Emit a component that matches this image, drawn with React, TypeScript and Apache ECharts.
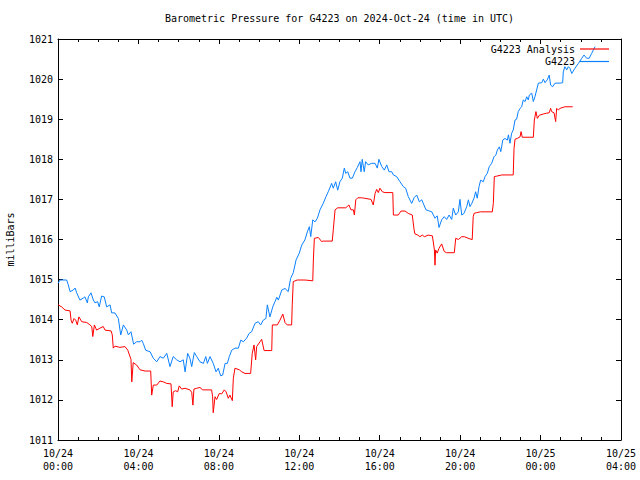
import React, { useEffect, useRef } from "react";
import * as echarts from "echarts";

// Hours since 2024-10-24 00:00 UTC
const stationTimes = [0.01,0.10,0.43,0.51,0.60,0.76,0.85,0.93,1.09,1.26,1.34,1.46,1.51,1.64,1.76,1.84,1.97,2.05,2.17,2.30,2.42,2.59,2.67,2.83,3.00,3.12,3.25,3.42,3.50,3.63,3.76,3.91,4.08,4.16,4.24,4.36,4.58,4.74,4.91,5.07,5.24,5.41,5.57,5.73,5.90,6.07,6.23,6.32,6.45,6.56,6.65,6.78,6.90,7.06,7.23,7.35,7.43,7.56,7.72,7.86,7.97,8.09,8.19,8.31,8.42,8.52,8.64,8.80,8.97,9.09,9.22,9.38,9.51,9.63,9.80,9.96,10.08,10.21,10.34,10.41,10.54,10.68,10.79,10.88,10.96,11.13,11.29,11.45,11.57,11.70,11.84,12.00,12.12,12.28,12.40,12.50,12.57,12.67,12.78,12.90,13.03,13.19,13.33,13.44,13.61,13.69,13.81,13.91,14.02,14.14,14.24,14.31,14.41,14.52,14.64,14.77,14.89,15.02,15.07,15.13,15.23,15.30,15.43,15.60,15.77,15.88,15.96,16.10,16.23,16.35,16.46,16.60,16.68,16.84,17.01,17.17,17.29,17.42,17.59,17.72,17.84,17.97,18.09,18.20,18.30,18.42,18.59,18.75,18.86,18.95,19.08,19.21,19.33,19.45,19.58,19.66,19.78,19.91,19.99,20.08,20.19,20.33,20.41,20.49,20.58,20.69,20.77,20.85,20.94,21.02,21.15,21.24,21.35,21.45,21.57,21.68,21.78,21.85,21.95,22.02,22.12,22.23,22.35,22.40,22.48,22.56,22.64,22.73,22.81,22.89,22.98,23.06,23.14,23.23,23.31,23.39,23.44,23.56,23.64,23.72,23.89,24.06,24.14,24.22,24.33,24.43,24.50,24.60,24.72,24.97,25.10,25.13,25.21,25.30,25.38,25.46,25.55,25.71,25.88,26.05,26.16,26.29,26.42,26.54,26.71];
const stationValues = [1014.91,1014.99,1014.99,1014.87,1014.70,1014.74,1014.79,1014.67,1014.49,1014.54,1014.57,1014.42,1014.57,1014.67,1014.49,1014.42,1014.45,1014.32,1014.59,1014.57,1014.32,1014.37,1014.17,1014.17,1014.03,1013.62,1013.87,1013.74,1013.62,1013.70,1013.39,1013.45,1013.45,1013.49,1013.41,1013.24,1013.20,1013.04,1012.95,1013.08,1013.04,1013.16,1012.83,1013.08,1013.00,1012.95,1013.00,1012.70,1013.16,1013.04,1012.83,1013.18,1013.08,1012.95,1012.91,1013.08,1012.91,1013.08,1012.91,1012.70,1012.79,1012.60,1012.62,1012.91,1012.91,1013.08,1013.24,1013.29,1013.29,1013.49,1013.45,1013.54,1013.66,1013.70,1013.91,1013.95,1013.87,1013.99,1014.03,1014.37,1014.07,1014.32,1014.45,1014.56,1014.49,1014.74,1014.78,1014.70,1015.03,1015.17,1015.49,1015.66,1015.86,1015.99,1016.19,1016.32,1016.07,1016.49,1016.44,1016.53,1016.74,1016.90,1017.07,1017.19,1017.40,1017.28,1017.44,1017.23,1017.44,1017.53,1017.78,1017.65,1017.69,1017.53,1017.53,1017.69,1017.80,1017.94,1017.69,1018.00,1017.69,1017.94,1017.86,1017.90,1017.90,1017.78,1018.00,1017.82,1017.73,1017.86,1017.69,1017.69,1017.61,1017.57,1017.44,1017.32,1017.28,1017.07,1016.90,1017.05,1017.11,1016.94,1016.99,1016.86,1016.74,1016.72,1016.69,1016.53,1016.59,1016.30,1016.49,1016.57,1016.50,1016.61,1016.50,1016.78,1016.61,1016.69,1017.00,1016.61,1016.65,1016.82,1016.99,1016.82,1016.90,1017.03,1017.19,1017.03,1017.32,1017.48,1017.44,1017.57,1017.65,1017.82,1017.90,1018.06,1018.11,1018.23,1018.31,1018.19,1018.48,1018.52,1018.48,1018.61,1018.40,1018.65,1018.73,1018.98,1019.00,1019.19,1019.27,1019.31,1019.48,1019.44,1019.56,1019.48,1019.60,1019.65,1019.44,1019.56,1019.90,1019.91,1020.00,1019.91,1019.98,1020.10,1019.85,1019.81,1019.90,1019.90,1019.91,1020.18,1020.31,1020.23,1020.31,1020.27,1020.14,1020.27,1020.39,1020.52,1020.60,1020.52,1020.52,1020.64,1020.81];

const analysisTimes = [0.01,0.18,0.35,0.60,0.65,0.71,0.80,0.88,0.96,1.04,1.18,1.43,1.59,1.68,1.73,1.81,1.92,2.09,2.25,2.34,2.64,2.70,2.75,2.83,3.08,3.33,3.47,3.63,3.67,3.74,3.91,4.08,4.33,4.61,4.66,4.74,4.91,5.07,5.24,5.41,5.62,5.68,5.73,5.85,5.95,6.03,6.15,6.32,6.56,6.65,6.71,6.76,6.90,7.06,7.20,7.64,7.69,7.72,7.81,7.89,8.02,8.14,8.27,8.36,8.47,8.55,8.67,8.72,8.80,9.02,9.14,9.30,9.58,9.66,9.75,9.83,9.88,10.05,10.13,10.25,10.63,10.66,10.91,11.04,11.18,11.29,11.40,11.62,11.65,11.70,11.90,12.28,12.67,12.70,12.75,12.95,13.11,13.19,13.64,13.69,13.78,13.91,14.31,14.47,14.57,14.69,14.74,14.81,14.91,15.10,15.23,15.57,15.68,15.77,15.85,15.93,16.01,16.13,16.26,16.65,16.68,16.92,17.06,17.26,17.42,17.62,17.71,17.75,17.89,18.00,18.12,18.22,18.42,18.62,18.72,18.75,18.78,18.86,18.95,19.08,19.21,19.33,19.71,19.78,19.91,20.08,20.21,20.45,20.60,20.65,20.69,20.82,21.02,21.60,21.65,21.70,21.82,22.07,22.64,22.68,22.73,22.84,22.98,23.03,23.09,23.23,23.64,23.69,23.77,23.84,23.94,24.14,24.30,24.43,24.50,24.55,24.67,24.75,24.80,24.88,24.97,25.21,25.60];
const analysisValues = [1014.37,1014.32,1014.24,1014.22,1013.99,1013.91,1014.03,1013.99,1013.87,1014.07,1013.95,1013.93,1013.87,1013.83,1013.58,1013.87,1013.74,1013.79,1013.83,1013.74,1013.72,1013.62,1013.29,1013.34,1013.31,1013.33,1013.24,1013.01,1012.45,1012.93,1012.87,1012.75,1012.72,1012.72,1012.12,1012.37,1012.37,1012.47,1012.45,1012.41,1012.40,1011.83,1012.20,1012.23,1012.20,1012.35,1012.27,1012.29,1012.25,1012.19,1011.87,1012.27,1012.29,1012.31,1012.25,1012.25,1012.08,1011.68,1012.08,1012.01,1012.16,1012.15,1012.25,1012.20,1012.04,1012.12,1011.98,1012.54,1012.79,1012.75,1012.70,1012.66,1012.66,1013.16,1013.37,1013.00,1013.33,1013.45,1013.51,1013.23,1013.23,1013.87,1013.87,1013.99,1014.14,1013.93,1013.87,1013.87,1014.37,1014.95,1014.99,1014.99,1014.97,1015.49,1016.03,1016.05,1015.95,1015.96,1015.96,1016.24,1016.74,1016.79,1016.79,1016.86,1016.74,1016.74,1016.61,1016.99,1017.04,1017.04,1017.03,1017.00,1016.86,1017.15,1017.25,1017.17,1017.28,1017.19,1017.17,1017.17,1016.61,1016.61,1016.71,1016.71,1016.65,1016.61,1016.24,1016.14,1016.11,1016.07,1016.11,1016.07,1016.11,1016.09,1015.74,1015.36,1015.74,1015.66,1015.78,1015.89,1015.70,1015.67,1015.67,1016.03,1016.00,1016.07,1016.07,1016.02,1016.00,1016.57,1016.65,1016.67,1016.69,1016.69,1016.90,1017.57,1017.58,1017.61,1017.61,1018.27,1018.50,1018.52,1018.56,1018.69,1018.55,1018.55,1018.55,1018.98,1019.19,1019.02,1019.10,1019.13,1019.15,1019.16,1019.27,1019.19,1019.16,1018.94,1019.27,1019.23,1019.27,1019.31,1019.31];

const seriesNames = ["G4223 Analysis", "G4223"];
const seriesColors = ["#ff0000", "#0a80ff"];
const titleText = "Barometric Pressure for G4223 on 2024-Oct-24 (time in UTC)";
const yAxisName = "milliBars";
const dayLabels = ["10/24", "10/25"];

const FONT = "'DejaVu Sans Mono', 'Liberation Mono', monospace";

function zip(t: number[], v: number[]) {
  const n = Math.min(t.length, v.length);
  const out: number[][] = [];
  for (let i = 0; i < n; i++) out.push([t[i], v[i]]);
  return out;
}

function fmtX(h: number) {
  const day = Math.floor(h / 24);
  const hh = Math.round(h - day * 24);
  return dayLabels[day] + "\n" + String(hh).padStart(2, "0") + ":00";
}

export default function App() {
  const ref = useRef<HTMLDivElement>(null);
  useEffect(() => {
    if (!ref.current) return;
    const chart = echarts.init(ref.current, undefined, { renderer: "svg" });
    const axisLine = { show: true, onZero: false, lineStyle: { color: "#000", width: 1 } };
    const tick = { show: true, inside: true, length: 5, lineStyle: { color: "#000", width: 1 } };
    const minor = { show: true, splitNumber: 4, length: 3, lineStyle: { color: "#000", width: 1 } };
    const labelBase = { color: "#000", fontFamily: FONT, fontSize: 10 };
    const xBase = { type: "value", min: 0, max: 28, interval: 4, splitLine: { show: false } };
    const yBase = { type: "value", min: 1011, max: 1021, interval: 1, splitLine: { show: false } };
    chart.setOption({
      animation: false,
      backgroundColor: "#fff",
      title: {
        text: titleText,
        left: 339.5,
        textAlign: "center",
        top: 13,
        padding: 0,
        textStyle: { fontFamily: FONT, fontSize: 10, fontWeight: "normal", color: "#000" },
      },
      grid: { left: 58, right: 19, top: 39, bottom: 40, containLabel: false, outerBoundsMode: "none" },
      legend: [
        {
          data: [seriesNames[0]],
          right: 31,
          top: 44,
          padding: 0,
          align: "right",
          icon: "rect",
          itemWidth: 29,
          itemHeight: 1.2,
          selectedMode: false,
          textStyle: { fontFamily: FONT, fontSize: 10, color: "#000" },
        },
        {
          data: [seriesNames[1]],
          right: 31,
          top: 56.5,
          padding: 0,
          align: "right",
          icon: "rect",
          itemWidth: 29,
          itemHeight: 1.2,
          selectedMode: false,
          textStyle: { fontFamily: FONT, fontSize: 10, color: "#000" },
        },
      ],
      xAxis: [
        {
          ...xBase,
          position: "bottom",
          axisLine,
          axisTick: tick,
          minorTick: minor,
          axisLabel: { ...labelBase, formatter: fmtX, lineHeight: 13, margin: 7 },
        },
        {
          ...xBase,
          position: "top",
          axisLine,
          axisTick: tick,
          minorTick: minor,
          axisLabel: { show: false },
        },
      ],
      yAxis: [
        {
          ...yBase,
          position: "left",
          name: yAxisName,
          nameLocation: "middle",
          nameRotate: 90,
          nameGap: 43,
          nameTextStyle: { fontFamily: FONT, fontSize: 10, color: "#000" },
          axisLine,
          axisTick: tick,
          axisLabel: { ...labelBase, margin: 5, formatter: (v: number) => String(v) },
        },
        {
          ...yBase,
          position: "right",
          axisLine,
          axisTick: tick,
          axisLabel: { show: false },
        },
      ],
      series: [
        {
          name: seriesNames[0],
          type: "line",
          data: zip(analysisTimes, analysisValues),
          showSymbol: false,
          symbol: "none",
          color: seriesColors[0],
          lineStyle: { color: seriesColors[0], width: 1 },
        },
        {
          name: seriesNames[1],
          type: "line",
          data: zip(stationTimes, stationValues),
          showSymbol: false,
          symbol: "none",
          color: seriesColors[1],
          lineStyle: { color: seriesColors[1], width: 1 },
        },
      ],
    });
    return () => chart.dispose();
  }, []);
  return <div ref={ref} style={{ width: 640, height: 480, position: "absolute", left: 0, top: 0 }} />;
}
